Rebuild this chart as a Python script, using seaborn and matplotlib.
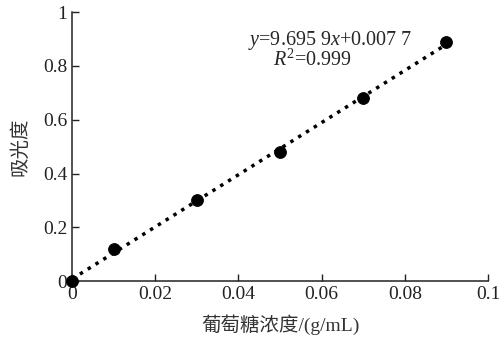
import numpy as np
import pandas as pd
import matplotlib
matplotlib.use('Agg')
import matplotlib.pyplot as plt
import seaborn as sns

# data
concentration = [0.0, 0.01, 0.03, 0.05, 0.07, 0.09]
absorbance = [0.0, 0.12, 0.30, 0.48, 0.68, 0.89]
slope = 9.6959
intercept = 0.0077
x_ticks = [0, 0.02, 0.04, 0.06, 0.08, 0.1]
x_tick_labels = ['0', '0.02', '0.04', '0.06', '0.08', '0.1']
y_ticks = [0, 0.2, 0.4, 0.6, 0.8, 1]
y_tick_labels = ['0', '0.2', '0.4', '0.6', '0.8', '1']

sns.set_style('ticks')
plt.rcParams['font.family'] = ['Liberation Serif', 'Noto Sans CJK SC']
plt.rcParams['mathtext.fontset'] = 'custom'
plt.rcParams['mathtext.rm'] = 'Liberation Serif'
plt.rcParams['mathtext.it'] = 'Liberation Serif:italic'

df = pd.DataFrame({'x': concentration, 'y': absorbance})
fit = pd.DataFrame({'x': [concentration[0], concentration[-1]]})
fit['y'] = slope * fit['x'] + intercept

fig = plt.figure(figsize=(5.01, 3.39), dpi=100)
ax = fig.add_axes([0.144, 0.171, 0.830, 0.793])

sns.lineplot(data=fit, x='x', y='y', ax=ax, color='black', linestyle=':',
             linewidth=2.5, zorder=2)
sns.scatterplot(data=df, x='x', y='y', ax=ax, color='black', s=72,
                edgecolor='black', zorder=3, clip_on=False)

ax.set_xlim(0, 0.1)
ax.set_ylim(0, 1)
ax.set_xticks(x_ticks)
ax.set_xticklabels(x_tick_labels)
ax.set_yticks(y_ticks)
ax.set_yticklabels(y_tick_labels)
ax.tick_params(direction='in', length=5, width=1, labelsize=14, colors='#222222')
for s in ['left', 'bottom']:
    ax.spines[s].set_linewidth(1.1)
    ax.spines[s].set_color('#222222')
sns.despine(ax=ax)

ax.set_xlabel('葡萄糖浓度/(g/mL)', fontsize=14, labelpad=8, color='#333333')
ax.set_ylabel('吸光度', fontsize=14, labelpad=10, color='#333333')

ax.text(0.062, 0.895, r'$y$=9.695 9$x$+0.007 7', fontsize=14.5, ha='center', va='center')
ax.text(0.0578, 0.82, r'$R^2$=0.999', fontsize=14.5, ha='center', va='center')

fig.savefig('out.png', dpi=100)
